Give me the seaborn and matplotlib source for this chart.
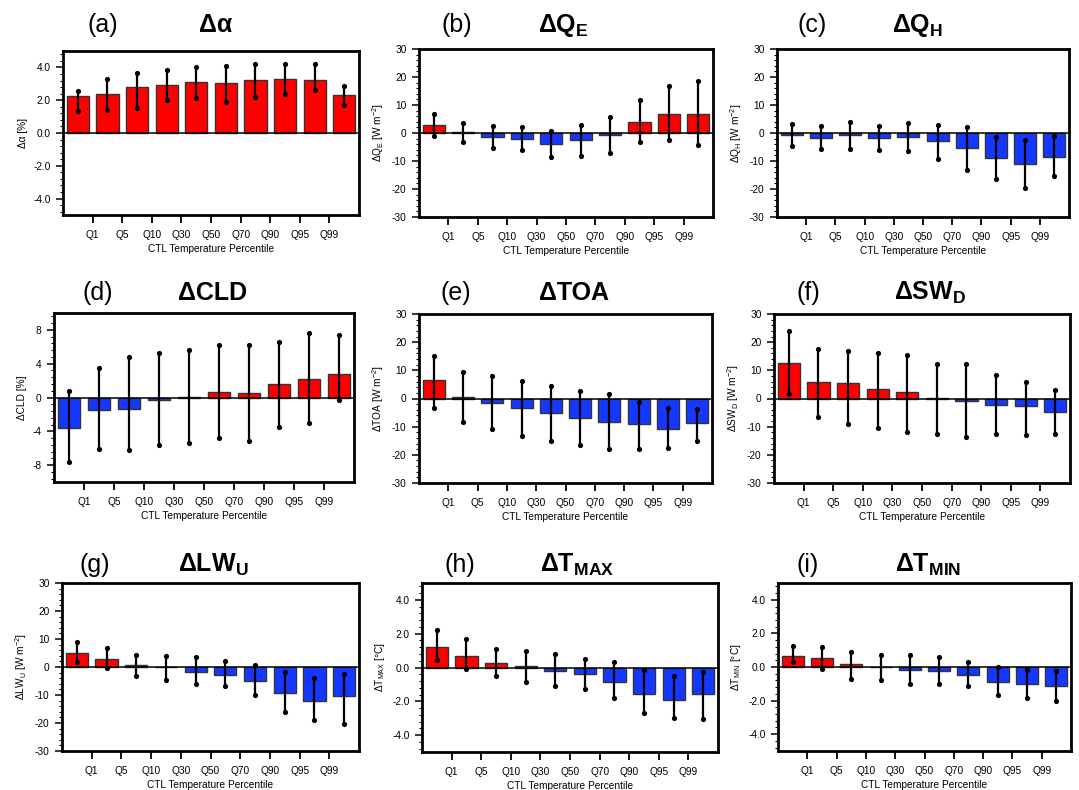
import numpy as np
import pandas as pd
import matplotlib
matplotlib.use("Agg")
import matplotlib.pyplot as plt
import seaborn as sns
from matplotlib.ticker import MultipleLocator, AutoMinorLocator, FormatStrFormatter

sns.set_theme(style="white")
plt.rcParams["font.family"] = ["Liberation Sans", "DejaVu Sans"]
plt.rcParams["mathtext.fontset"] = "custom"
plt.rcParams["mathtext.rm"] = "Liberation Sans"
plt.rcParams["mathtext.bf"] = "Liberation Sans:bold"
plt.rcParams["mathtext.it"] = "Liberation Sans:italic"
plt.rcParams["axes.unicode_minus"] = False

# ---------------- data ----------------
bins = ["<Q1", "Q1-Q5", "Q5-Q10", "Q10-Q30", "Q30-Q50",
        "Q50-Q70", "Q70-Q90", "Q90-Q95", "Q95-Q99", ">Q99"]
tick_labels = ["Q1", "Q5", "Q10", "Q30", "Q50", "Q70", "Q90", "Q95", "Q99"]

albedo_mean = [2.25, 2.39, 2.81, 2.95, 3.10, 3.06, 3.24, 3.30, 3.24, 2.29]
albedo_low = [1.35, 1.43, 1.53, 2.03, 2.11, 1.89, 2.19, 2.39, 2.63, 1.73]
albedo_high = [2.55, 3.28, 3.64, 3.82, 4.02, 4.08, 4.22, 4.22, 4.18, 2.87]

qe_mean = [2.7, 0.5, -1.3, -2.0, -3.8, -2.4, -0.7, 3.8, 6.9, 6.65]
qe_low = [-1.2, -3.3, -5.5, -6.2, -8.4, -8.1, -7.1, -3.3, -2.6, -4.3]
qe_high = [6.9, 3.7, 2.6, 2.1, 0.7, 2.7, 5.7, 11.9, 16.9, 18.5]

qh_mean = [-0.7, -1.7, -0.7, -1.7, -1.4, -3.0, -5.5, -9.1, -11.1, -8.7]
qh_low = [-4.7, -5.6, -5.6, -6.2, -6.3, -9.3, -13.2, -16.6, -19.8, -15.5]
qh_high = [3.3, 2.6, 3.9, 2.6, 3.6, 3.0, 2.3, -1.4, -2.5, -1.2]

cld_mean = [-3.58, -1.48, -1.40, -0.31, 0.08, 0.62, 0.58, 1.60, 2.18, 2.76]
cld_low = [-7.66, -6.07, -6.23, -5.60, -5.41, -4.79, -5.18, -3.46, -3.00, -0.35]
cld_high = [0.82, 3.50, 4.82, 5.25, 5.64, 6.23, 6.26, 6.61, 7.67, 7.39]

toa_mean = [6.67, 0.6, -1.5, -3.2, -5.0, -6.8, -8.2, -9.0, -10.8, -8.6]
toa_low = [-3.3, -8.3, -11.0, -13.2, -15.2, -16.5, -18.0, -18.0, -17.7, -15.0]
toa_high = [15.1, 9.4, 8.1, 6.1, 4.6, 2.7, 1.7, -1.3, -3.5, -3.8]

swd_mean = [12.5, 6.0, 5.5, 3.2, 2.3, 0.1, -0.8, -2.3, -2.6, -4.9]
swd_low = [1.7, -6.4, -9.2, -10.5, -11.9, -12.6, -13.5, -12.5, -13.0, -12.5]
swd_high = [23.8, 17.5, 16.9, 16.3, 15.4, 12.1, 12.1, 8.3, 5.7, 3.0]

lwu_mean = [5.0, 2.7, 0.7, -0.1, -1.7, -2.7, -4.9, -9.3, -12.05, -10.5]
lwu_low = [1.9, -0.3, -3.1, -4.5, -6.2, -6.9, -10.0, -16.2, -19.1, -20.2]
lwu_high = [8.8, 6.8, 4.2, 3.8, 3.5, 2.0, 0.8, -1.7, -3.9, -2.4]

tmax_mean = [1.24, 0.68, 0.28, 0.08, -0.22, -0.40, -0.84, -1.54, -1.90, -1.58]
tmax_low = [0.44, -0.08, -0.48, -0.84, -1.10, -1.30, -1.82, -2.71, -2.97, -3.03]
tmax_high = [2.20, 1.68, 1.10, 1.00, 0.80, 0.52, 0.30, -0.14, -0.50, -0.24]

tmin_mean = [0.68, 0.54, 0.16, 0.01, -0.18, -0.22, -0.46, -0.88, -1.00, -1.12]
tmin_low = [0.28, -0.14, -0.70, -0.78, -1.02, -1.02, -1.12, -1.69, -1.85, -2.01]
tmin_high = [1.27, 1.18, 0.88, 0.72, 0.70, 0.60, 0.28, 0.02, -0.16, -0.22]

# ---------------- layout ----------------
W, H = 1079, 790
fig = plt.figure(figsize=(W / 100, H / 100), dpi=100)

RED = "#ff0000"
BLUE = "#1438ff"
FS = 7.3

# (letter, title, ylabel, mean, low, high, ylim, step, fmt,
#  axes box px (L, R, T, B), letter x, title x, text baseline y)
panels = [
    ("(a)", r"Δα", r"Δα [%]", albedo_mean, albedo_low, albedo_high,
     (-5, 5), 2, "%.1f", (63, 359, 51, 215), 103, 216, 32),
    ("(b)", r"$\mathbf{ΔQ_E}$", r"$\mathrm{ΔQ_E\ [W\ m^{-2}]}$", qe_mean, qe_low, qe_high,
     (-30, 30), 10, "%d", (419, 713, 49, 217), 457, 563, 32),
    ("(c)", r"$\mathbf{ΔQ_H}$", r"$\mathrm{ΔQ_H\ [W\ m^{-2}]}$", qh_mean, qh_low, qh_high,
     (-30, 30), 10, "%d", (777, 1069, 49, 217), 812, 918, 32),
    ("(d)", r"ΔCLD", r"ΔCLD [%]", cld_mean, cld_low, cld_high,
     (-10, 10), 4, "%d", (54, 354, 313, 482), 98, 213, 300),
    ("(e)", r"ΔTOA", r"$\mathrm{ΔTOA\ [W\ m^{-2}]}$", toa_mean, toa_low, toa_high,
     (-30, 30), 10, "%d", (419, 712, 314, 483), 456, 574, 300),
    ("(f)", r"$\mathbf{ΔSW_D}$", r"$\mathrm{ΔSW_D\ [W\ m^{-2}]}$", swd_mean, swd_low, swd_high,
     (-30, 30), 10, "%d", (774, 1070, 314, 483), 808, 930, 300),
    ("(g)", r"$\mathbf{ΔLW_U}$", r"$\mathrm{ΔLW_U\ [W\ m^{-2}]}$", lwu_mean, lwu_low, lwu_high,
     (-30, 30), 10, "%d", (62, 359, 583, 751), 95, 213, 572),
    ("(h)", r"$\mathbf{ΔT_{MAX}}$", r"$\mathrm{ΔT_{MAX}\ [°C]}$", tmax_mean, tmax_low, tmax_high,
     (-5, 5), 2, "%.1f", (422, 718, 583, 752), 460, 577, 572),
    ("(i)", r"$\mathbf{ΔT_{MIN}}$", r"$\mathrm{ΔT_{MIN}\ [°C]}$", tmin_mean, tmin_low, tmin_high,
     (-5, 5), 2, "%.1f", (778, 1071, 583, 751), 808, 928, 572),
]

for (letter, title, ylabel, mean, low, high, ylim, step, fmt,
     box, lx, tx, ty) in panels:
    L, R, T, B = box
    ax = fig.add_axes([L / W, 1 - B / H, (R - L) / W, (B - T) / H])
    mean = np.asarray(mean)
    df = pd.DataFrame({
        "bin": bins,
        "value": mean,
        "sign": np.where(mean >= 0, "pos", "neg"),
    })
    sns.barplot(data=df, x="bin", y="value", hue="sign", order=bins,
                palette={"pos": RED, "neg": BLUE}, dodge=False, width=0.75,
                saturation=1, edgecolor="#333333", linewidth=1.0,
                legend=False, ax=ax, zorder=2)
    ax.axhline(0, color="black", lw=1.1, zorder=3)
    xpos = np.arange(len(bins))
    ax.vlines(xpos, low, high, color="black", lw=1.6, zorder=4)
    ax.scatter(xpos, low, s=14, color="black", zorder=5, linewidths=0)
    ax.scatter(xpos, high, s=14, color="black", zorder=5, linewidths=0)

    ax.set_xlim(-0.5, len(bins) - 0.5)
    ax.set_ylim(*ylim)
    ax.set_xticks(np.arange(len(tick_labels)) + 0.5)
    ax.set_xticklabels(tick_labels)
    ax.yaxis.set_major_locator(MultipleLocator(step))
    ax.yaxis.set_minor_locator(AutoMinorLocator(5))
    ax.yaxis.set_major_formatter(FormatStrFormatter(fmt))

    ax.tick_params(axis="x", which="major", bottom=True, top=False,
                   direction="out", length=5.5, width=1.3, labelsize=FS,
                   pad=5.5, colors="black")
    ax.tick_params(axis="x", which="minor", bottom=False, top=False)
    ax.tick_params(axis="y", which="major", left=True, right=False,
                   direction="out", length=5, width=1.1, labelsize=FS,
                   pad=4, colors="black")
    ax.tick_params(axis="y", which="minor", left=True, right=False,
                   direction="out", length=2.5, width=0.8, colors="black")
    for sp in ax.spines.values():
        sp.set_linewidth(2.0)
        sp.set_color("black")
    ax.set_xlabel("CTL Temperature Percentile", fontsize=FS, labelpad=2.5,
                  color="black")
    ax.set_ylabel(ylabel, fontsize=FS, color="black", labelpad=4)
    ax.grid(False)

    fig.text(lx / W, 1 - ty / H, letter, fontsize=18, ha="center",
             va="baseline", color="black")
    fig.text(tx / W, 1 - ty / H, title, fontsize=18, fontweight="bold",
             ha="center", va="baseline", color="black")

fig.savefig("out.png", dpi=100, facecolor="white")
